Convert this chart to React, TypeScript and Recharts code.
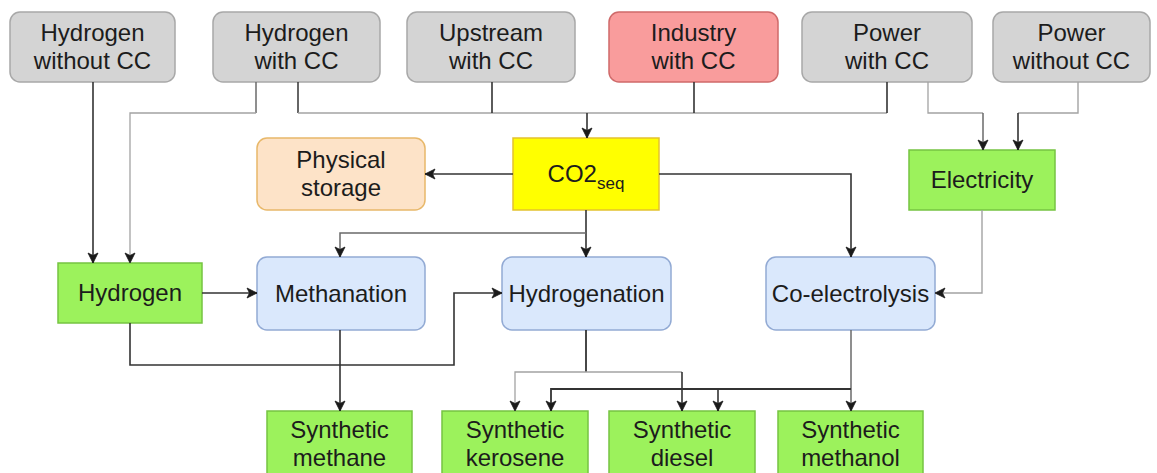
import React from "react";
import { ScatterChart, Scatter, XAxis, YAxis, ReferenceArea } from "recharts";

const W = 1157;
const H = 473;

type Kind = "gray" | "red" | "orange" | "yellow" | "green" | "blue";

// Flow-chart nodes: label lines and extents in chart units
const topRowNodes = [
  { id: "h2wo", lines: ["Hydrogen", "without CC"], x1: 10, x2: 175, y1: 12, y2: 82, kind: "gray" as Kind },
  { id: "h2w", lines: ["Hydrogen", "with CC"], x1: 213, x2: 380, y1: 12, y2: 82, kind: "gray" as Kind },
  { id: "up", lines: ["Upstream", "with CC"], x1: 407, x2: 575, y1: 12, y2: 82, kind: "gray" as Kind },
  { id: "ind", lines: ["Industry", "with CC"], x1: 609, x2: 778, y1: 12, y2: 82, kind: "red" as Kind },
  { id: "pw", lines: ["Power", "with CC"], x1: 802, x2: 972, y1: 12, y2: 82, kind: "gray" as Kind },
  { id: "pwo", lines: ["Power", "without CC"], x1: 993, x2: 1150, y1: 12, y2: 82, kind: "gray" as Kind },
];

const middleNodes = [
  { id: "phys", lines: ["Physical", "storage"], x1: 257, x2: 425, y1: 138, y2: 210, kind: "orange" as Kind },
  { id: "co2", lines: ["CO2|seq"], x1: 513, x2: 659, y1: 138, y2: 210, kind: "yellow" as Kind },
  { id: "elec", lines: ["Electricity"], x1: 909, x2: 1055, y1: 150, y2: 210, kind: "green" as Kind },
];

const processNodes = [
  { id: "h2", lines: ["Hydrogen"], x1: 58, x2: 202, y1: 263, y2: 323, kind: "green" as Kind },
  { id: "meth", lines: ["Methanation"], x1: 257, x2: 425, y1: 257, y2: 330, kind: "blue" as Kind },
  { id: "hydrog", lines: ["Hydrogenation"], x1: 502, x2: 671, y1: 257, y2: 330, kind: "blue" as Kind },
  { id: "coel", lines: ["Co-electrolysis"], x1: 766, x2: 935, y1: 257, y2: 330, kind: "blue" as Kind },
];

const productNodes = [
  { id: "sm", lines: ["Synthetic", "methane"], x1: 267, x2: 412, y1: 411, y2: 477, kind: "green" as Kind },
  { id: "sk", lines: ["Synthetic", "kerosene"], x1: 442, x2: 588, y1: 411, y2: 477, kind: "green" as Kind },
  { id: "sd", lines: ["Synthetic", "diesel"], x1: 609, x2: 755, y1: 411, y2: 477, kind: "green" as Kind },
  { id: "smo", lines: ["Synthetic", "methanol"], x1: 778, x2: 923, y1: 411, y2: 477, kind: "green" as Kind },
];

const allNodes = [...topRowNodes, ...middleNodes, ...processNodes, ...productNodes];

const DARK = "#333333";
const MID = "#6a6a6a";
const LIGHT = "#a3a3a3";

// Connectors: polylines in chart units; arrow at the last point unless arrow === false
const edges: { pts: number[][]; c: string; w: number; arrow?: boolean }[] = [
  { pts: [[93, 82], [93, 263]], c: DARK, w: 1.6 },
  { pts: [[256, 82], [256, 113]], c: MID, w: 1.5, arrow: false },
  { pts: [[256, 113], [130, 113], [130, 263]], c: LIGHT, w: 1.3 },
  { pts: [[298, 82], [298, 113]], c: DARK, w: 1.5, arrow: false },
  { pts: [[298, 113], [887, 113]], c: LIGHT, w: 1.3, arrow: false },
  { pts: [[492, 82], [492, 113]], c: DARK, w: 1.6, arrow: false },
  { pts: [[694, 82], [694, 113]], c: DARK, w: 1.6, arrow: false },
  { pts: [[887, 82], [887, 113]], c: DARK, w: 1.6, arrow: false },
  { pts: [[587, 113], [587, 138]], c: DARK, w: 1.6 },
  { pts: [[928, 82], [928, 113], [983, 113]], c: LIGHT, w: 1.3, arrow: false },
  { pts: [[983, 113], [983, 150]], c: MID, w: 1.5 },
  { pts: [[1078, 82], [1078, 113], [1018, 113]], c: LIGHT, w: 1.4, arrow: false },
  { pts: [[1018, 113], [1018, 150]], c: DARK, w: 1.6 },
  { pts: [[513, 174], [425, 174]], c: DARK, w: 1.6 },
  { pts: [[659, 174], [851, 174], [851, 257]], c: DARK, w: 1.6 },
  { pts: [[586, 210], [586, 257]], c: DARK, w: 1.6 },
  { pts: [[586, 233], [340, 233], [340, 257]], c: MID, w: 1.5 },
  { pts: [[982, 210], [982, 293], [935, 293]], c: LIGHT, w: 1.4 },
  { pts: [[202, 293], [257, 293]], c: DARK, w: 1.6 },
  { pts: [[130, 323], [130, 365], [454, 365], [454, 293], [502, 293]], c: DARK, w: 1.6 },
  { pts: [[340, 330], [340, 411]], c: DARK, w: 1.6 },
  { pts: [[586, 330], [586, 372]], c: DARK, w: 1.8, arrow: false },
  { pts: [[586, 372], [515, 372], [515, 411]], c: LIGHT, w: 1.3 },
  { pts: [[586, 372], [682, 372]], c: LIGHT, w: 1.3, arrow: false },
  { pts: [[682, 372], [682, 411]], c: DARK, w: 1.6 },
  { pts: [[851, 330], [851, 411]], c: MID, w: 1.5 },
  { pts: [[851, 389], [551, 389], [551, 411]], c: DARK, w: 1.8 },
  { pts: [[718, 389], [718, 411]], c: DARK, w: 1.6 },
];

const STYLE: Record<Kind, { fill: string; stroke: string; r: number }> = {
  gray: { fill: "#d4d4d4", stroke: "#a8a8a8", r: 10 },
  red: { fill: "#f99c9c", stroke: "#cf6a6a", r: 10 },
  orange: { fill: "#fde3c8", stroke: "#e8b86a", r: 10 },
  yellow: { fill: "#ffff00", stroke: "#e3c22e", r: 0 },
  green: { fill: "#9cf25c", stroke: "#76c442", r: 0 },
  blue: { fill: "#dae8fc", stroke: "#92aad4", r: 10 },
};

const FONT = "'Liberation Sans', Arial, Helvetica, sans-serif";

function NodeShape(props: any) {
  const { x, y, width, height, node } = props;
  if (x == null || y == null) return <g />;
  const st = STYLE[node.kind as Kind];
  const cx = x + width / 2;
  const cy = y + height / 2;
  const n = node.lines.length;
  return (
    <g>
      <rect x={x} y={y} width={width} height={height} rx={st.r} ry={st.r} fill={st.fill} stroke={st.stroke} strokeWidth={1.5} />
      {node.lines.map((ln: string, i: number) => {
        const base = cy + 8 + (i - (n - 1) / 2) * 28;
        if (ln.includes("|")) {
          const [a, b] = ln.split("|");
          return (
            <text key={i} x={cx} y={base} textAnchor="middle" fontSize={24} fill="#1c1c1c" fontFamily={FONT}>
              <tspan>{a}</tspan>
              <tspan fontSize={17} dy={7}>{b}</tspan>
            </text>
          );
        }
        return (
          <text key={i} x={cx} y={base} textAnchor="middle" fontSize={24} fill="#1c1c1c" fontFamily={FONT}>
            {ln}
          </text>
        );
      })}
    </g>
  );
}

function ArrowPoint(props: any) {
  const { cx, cy, payload } = props;
  if (!payload || !payload.dir || cx == null) return <g />;
  const L = 10;
  const hw = 5;
  const notch = 2.5;
  let d = "";
  if (payload.dir === "down") {
    d = `M${cx},${cy} L${cx - hw},${cy - L} L${cx},${cy - L + notch} L${cx + hw},${cy - L} Z`;
  } else if (payload.dir === "up") {
    d = `M${cx},${cy} L${cx - hw},${cy + L} L${cx},${cy + L - notch} L${cx + hw},${cy + L} Z`;
  } else if (payload.dir === "right") {
    d = `M${cx},${cy} L${cx - L},${cy - hw} L${cx - L + notch},${cy} L${cx - L},${cy + hw} Z`;
  } else {
    d = `M${cx},${cy} L${cx + L},${cy - hw} L${cx + L - notch},${cy} L${cx + L},${cy + hw} Z`;
  }
  return <path d={d} fill="#1a1a1a" stroke="#1a1a1a" strokeWidth={0.8} strokeLinejoin="miter" />;
}

function edgeData(e: { pts: number[][]; arrow?: boolean }) {
  const n = e.pts.length;
  const [px, py] = e.pts[n - 2];
  const [lx, ly] = e.pts[n - 1];
  let dir = "";
  if (e.arrow !== false) {
    if (lx === px) dir = ly > py ? "down" : "up";
    else dir = lx > px ? "right" : "left";
  }
  return e.pts.map((p, i) => ({ x: p[0], y: p[1], dir: i === n - 1 ? dir : "" }));
}

export default function App() {
  return (
    <div style={{ width: W, height: H, background: "#fff" }}>
      <style>{`body{margin:0;background:#fff}`}</style>
      <ScatterChart width={W} height={H} margin={{ top: 0, right: 0, bottom: 0, left: 0 }} style={{ fontFamily: FONT }}>
        <XAxis type="number" dataKey="x" domain={[0, W]} hide allowDataOverflow />
        <YAxis type="number" dataKey="y" domain={[0, H]} hide reversed allowDataOverflow />
        {allNodes.map((nd) => (
          <ReferenceArea
            key={nd.id}
            x1={nd.x1}
            x2={nd.x2}
            y1={nd.y1}
            y2={nd.y2}
            ifOverflow="visible"
            shape={(p: any) => <NodeShape {...p} node={nd} />}
          />
        ))}
        {edges.map((e, i) => (
          <Scatter
            key={i}
            data={edgeData(e)}
            line={{ stroke: e.c, strokeWidth: e.w }}
            lineType="joint"
            shape={ArrowPoint}
            isAnimationActive={false}
            legendType="none"
          />
        ))}
      </ScatterChart>
    </div>
  );
}
